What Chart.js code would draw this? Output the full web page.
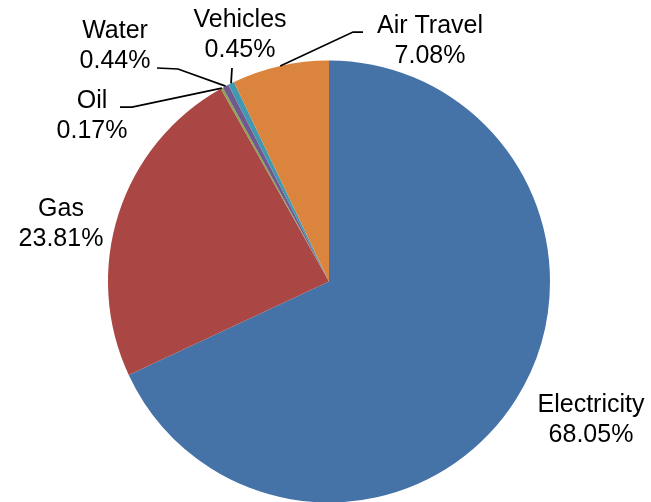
<!DOCTYPE html>
<html>
<head>
<meta charset="utf-8">
<script src="https://cdn.jsdelivr.net/npm/chart.js@4.4.0/dist/chart.umd.min.js"></script>
<style>
  html, body { margin: 0; padding: 0; background: #ffffff; }
  #wrap { width: 651px; height: 502px; position: relative; }
</style>
</head>
<body>
<div id="wrap"><canvas id="pie-chart" width="651" height="502"></canvas></div>
<script>
// Energy share by source
const categories = ['Electricity', 'Gas', 'Oil', 'Water', 'Vehicles', 'Air Travel'];
const shares = [68.05, 23.81, 0.17, 0.44, 0.45, 7.08];
const sliceColors = ['#4572A7', '#AA4643', '#89A54E', '#71588F', '#4198AF', '#DB843D'];

// where each label sits and how its leader line bends (null = no leader)
const labelLayout = {
    'Electricity': { x: 591, y: 412, leader: null },
    'Gas':         { x: 61,  y: 216, leader: null },
    'Oil':         { x: 92,  y: 108, leader: [[132, 107], [120, 107]] },
    'Water':       { x: 115, y: 38,  leader: [[178, 69], [157, 68]] },
    'Vehicles':    { x: 240, y: 27,  leader: [[232, 68]] },
    'Air Travel':  { x: 430, y: 33,  leader: [[353, 32], [363, 32]] }
};

const outsideLabels = {
    id: 'outsideLabels',
    afterDraw(chart) {
        const ctx = chart.ctx;
        const meta = chart.getDatasetMeta(0);
        ctx.save();
        ctx.font = '25px "Liberation Sans", Arial, sans-serif';
        ctx.fillStyle = '#000000';
        ctx.textAlign = 'center';
        ctx.textBaseline = 'alphabetic';
        meta.data.forEach((arc, i) => {
            const name = categories[i];
            const pos = labelLayout[name];
            if (!pos) return;
            if (pos.leader) {
                const mid = (arc.startAngle + arc.endAngle) / 2;
                const sx = arc.x + Math.cos(mid) * arc.outerRadius;
                const sy = arc.y + Math.sin(mid) * arc.outerRadius;
                ctx.beginPath();
                ctx.strokeStyle = '#000000';
                ctx.lineWidth = 1.75;
                ctx.moveTo(sx, sy);
                pos.leader.forEach(p => ctx.lineTo(p[0], p[1]));
                ctx.stroke();
            }
            ctx.fillText(name, pos.x, pos.y);
            ctx.fillText(shares[i].toFixed(2) + '%', pos.x, pos.y + 30);
        });
        ctx.restore();
    }
};

new Chart(document.getElementById('pie-chart'), {
    type: 'pie',
    data: {
        labels: categories,
        datasets: [{
            data: shares,
            backgroundColor: sliceColors,
            borderWidth: 0
        }]
    },
    options: {
        responsive: false,
        animation: false,
        radius: 221,
        layout: {
            padding: { left: 108, right: 101, top: 61, bottom: 0 }
        },
        plugins: {
            legend: { display: false },
            tooltip: { enabled: false }
        }
    },
    plugins: [outsideLabels]
});
</script>
</body>
</html>
